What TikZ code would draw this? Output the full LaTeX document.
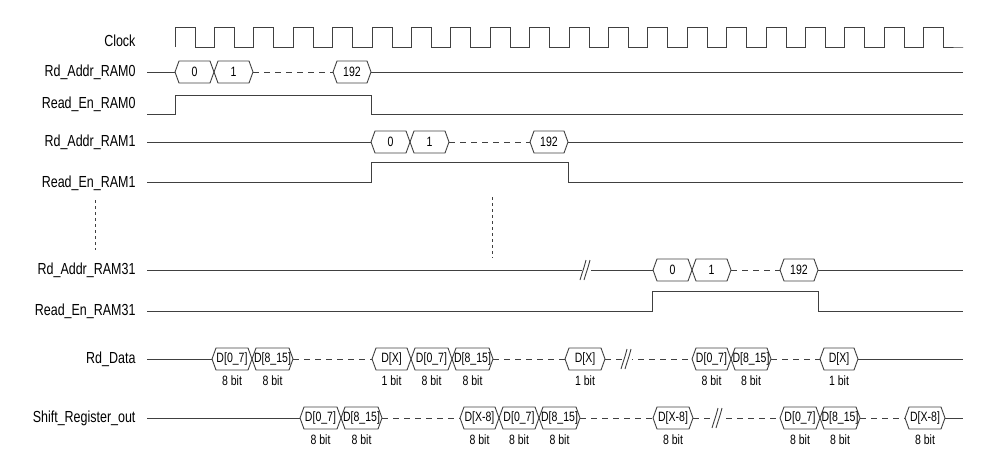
\documentclass[tikz,border=0pt]{standalone}
\usepackage{fontspec}
\setmainfont{Liberation Sans}[FakeStretch=0.78]
\newcommand\hexb[5]{% x1 x2 y h text
  \draw[sig] (#1,#3) -- (#1+4,#3-#4) -- (#2-4,#3-#4) -- (#2,#3) -- (#2-4,#3+#4) -- (#1+4,#3+#4) -- cycle;
  \node[boxt] at ({(#1+#2)/2},#3) {#5};}
\newcommand\hexd[6]{% with bit label
  \hexb{#1}{#2}{#3}{11}{#5}
  \node[bitt] at ({(#1+#2)/2},#3+22) {#6};}
\newcommand\brk[2]{\draw[sig,fill=white,draw=white] (#1-4,#2-9) rectangle (#1+4,#2+9);
  \draw[sig] (#1-6,#2+10) .. controls (#1-3,#2) and (#1-2,#2-2) .. (#1,#2-10);
  \draw[sig] (#1-2,#2+10) .. controls (#1+1,#2) and (#1+2,#2-2) .. (#1+4,#2-10);}
\begin{document}
\begin{tikzpicture}[x=1pt,y=-1pt,
  sig/.style={line width=0.9pt,draw=black!75},
  dsh/.style={sig,dash pattern=on 6pt off 5pt},
  lab/.style={anchor=east,font=\fontsize{16}{18}\selectfont},
  boxt/.style={font=\fontsize{13.5}{15}\selectfont,inner sep=0pt},
  bitt/.style={font=\fontsize{13.5}{15}\selectfont,inner sep=0pt}]
\useasboundingbox (0,0) rectangle (996,461);
% labels
\node[lab] (l0) at (139,41) {Clock};
\node[lab] (l1) at (139,72) {Rd\_Addr\_RAM0};
\node[lab] (l2) at (139,104) {Read\_En\_RAM0};
\node[lab] (l3) at (139,142) {Rd\_Addr\_RAM1};
\node[lab] (l4) at (139,183) {Read\_En\_RAM1};
\node[lab] (l5) at (139,270) {Rd\_Addr\_RAM31};
\node[lab] (l6) at (139,311) {Read\_En\_RAM31};
\node[lab] (l7) at (139,359) {Rd\_Data};
\node[lab] (l8) at (139,418) {Shift\_Register\_out};
% clock
\draw[sig] (175,47) \foreach \i in {0,...,19} { -- ({175+39.4*\i},27) -- ({195+39.4*\i},27) -- ({195+39.4*\i},47) -- ({214.4+39.4*\i},47)} -- (963,47);
% RAM0
\draw[sig] (147,72) -- (175,72);
\hexb{175}{214}{72}{11}{0}\hexb{214}{253}{72}{11}{1}
\draw[dsh] (253,72) -- (333,72);
\hexb{333}{371}{72}{11}{192}
\draw[sig] (371,72) -- (963,72);
\draw[sig] (147,114) -- (175,114) -- (175,95) -- (371,95) -- (371,114) -- (963,114);
% RAM1
\draw[sig] (147,142) -- (371,142);
\hexb{371}{410}{142}{11}{0}\hexb{410}{449}{142}{11}{1}
\draw[dsh] (449,142) -- (530,142);
\hexb{530}{568}{142}{11}{192}
\draw[sig] (568,142) -- (963,142);
\draw[sig] (147,182) -- (371,182) -- (371,162) -- (568,162) -- (568,182) -- (963,182);
% dots
\draw[sig,dash pattern=on 3pt off 3pt] (95,200) -- (95,250);
\draw[sig,dash pattern=on 3pt off 3pt] (492,197) -- (492,258);
% RAM31
\draw[sig] (147,270) -- (653,270);
\brk{586}{270}
\hexb{653}{692}{270}{11}{0}\hexb{692}{731}{270}{11}{1}
\draw[dsh] (731,270) -- (780,270);
\hexb{780}{818}{270}{11}{192}
\draw[sig] (818,270) -- (963,270);
\draw[sig] (147,311) -- (652,311) -- (652,291) -- (818,291) -- (818,311) -- (963,311);
% Rd_Data
\draw[sig] (147,359) -- (212,359);
\hexd{212}{252}{359}{}{D[0\_7]}{8 bit}\hexd{252}{293}{359}{}{D[8\_15]}{8 bit}
\draw[dsh] (293,359) -- (372,359);
\hexd{372}{411}{359}{}{D[X]}{1 bit}\hexd{411}{452}{359}{}{D[0\_7]}{8 bit}\hexd{452}{493}{359}{}{D[8\_15]}{8 bit}
\draw[dsh] (493,359) -- (565,359);
\hexd{565}{605}{359}{}{D[X]}{1 bit}
\draw[dsh] (605,359) -- (692,359);
\brk{627}{359}
\hexd{692}{731}{359}{}{D[0\_7]}{8 bit}\hexd{731}{771}{359}{}{D[8\_15]}{8 bit}
\draw[dsh] (771,359) -- (820,359);
\hexd{820}{858}{359}{}{D[X]}{1 bit}
\draw[sig] (858,359) -- (963,359);
% Shift
\draw[sig] (147,418) -- (300,418);
\hexd{300}{341}{418}{}{D[0\_7]}{8 bit}\hexd{341}{382}{418}{}{D[8\_15]}{8 bit}
\draw[dsh] (382,418) -- (460,418);
\hexd{460}{499}{418}{}{D[X-8]}{8 bit}\hexd{499}{539}{418}{}{D[0\_7]}{8 bit}\hexd{539}{580}{418}{}{D[8\_15]}{8 bit}
\draw[dsh] (580,418) -- (653,418);
\hexd{653}{693}{418}{}{D[X-8]}{8 bit}
\draw[dsh] (693,418) -- (780,418);
\brk{718}{418}
\hexd{780}{820}{418}{}{D[0\_7]}{8 bit}\hexd{820}{860}{418}{}{D[8\_15]}{8 bit}
\draw[dsh] (860,418) -- (905,418);
\hexd{905}{945}{418}{}{D[X-8]}{8 bit}
\draw[sig] (945,418) -- (963,418);
\end{tikzpicture}
\end{document}
